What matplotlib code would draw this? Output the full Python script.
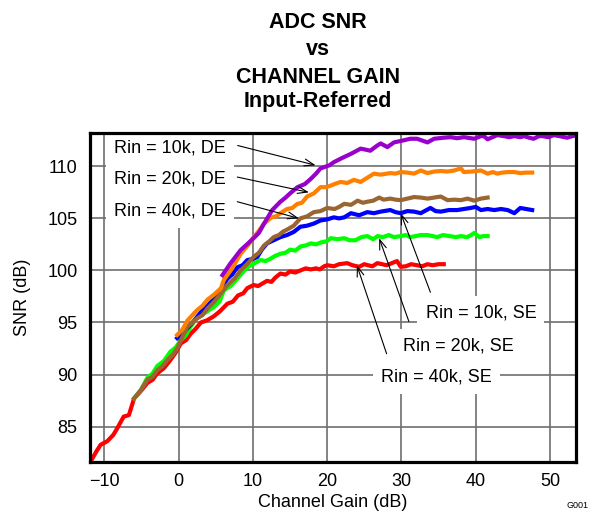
import matplotlib
matplotlib.use("Agg")
import matplotlib.pyplot as plt

plt.rcParams["font.family"] = ["Liberation Sans", "DejaVu Sans"]

# Rin = 40k, SE (red)
red_x = [-11.85, -11.0, -10.5, -9.6, -8.8, -8.25, -7.4, -6.7, -6.0, -5.1, -4.2, -3.5, -2.9, -2.0,
         -1.1, -0.4, 0.3, 1.0, 1.6, 2.3, 3.0, 3.8, 4.75, 5.6, 6.55, 7.3, 8.0, 8.7, 9.25, 10.1,
         10.7, 11.3, 11.9, 12.5, 13.0, 13.7, 14.4, 15.0, 15.7, 16.4, 17.1, 17.8, 18.5, 19.0,
         19.6, 20.0, 20.9, 21.6, 22.7, 23.4, 24.3, 25.0, 25.5, 26.1, 26.75, 27.4, 28.0, 28.7,
         29.4, 29.9, 30.6, 31.3, 32.1, 32.8, 33.5, 34.2, 35.0, 35.7]
red_y = [81.65, 82.7, 83.25, 83.6, 84.2, 84.85, 85.96, 86.1, 87.7, 88.4, 89.2, 89.5, 90.1, 90.6,
         91.4, 92.1, 93.0, 93.3, 93.9, 94.4, 95.0, 95.2, 95.6, 96.1, 96.8, 97.0, 97.6, 97.8, 98.3, 98.6,
         98.5, 98.75, 99.0, 98.9, 99.3, 99.7, 99.6, 99.9, 99.8, 100.0, 100.2, 100.1, 100.2, 100.1,
         100.4, 100.5, 100.4, 100.6, 100.7, 100.5, 100.35, 100.6, 100.5, 100.4, 100.7, 100.6, 100.5, 100.7,
         100.9, 100.35, 100.4, 100.6, 100.5, 100.4, 100.6, 100.5, 100.6, 100.6]

# Rin = 20k, SE (green)
green_x = [-6.0, -5.1, -4.2, -3.5, -2.9, -2.0, -1.1, -0.4, 0.3, 1.0, 1.6, 2.5, 3.5, 4.75, 5.5,
           6.1, 7.0, 7.9, 8.6, 9.25, 10.0, 11.0, 11.7, 12.3, 13.0, 13.7, 14.4, 15.0, 15.7, 16.4,
           17.1, 17.8, 18.5, 19.2, 19.9, 20.5, 21.4, 22.3, 23.0, 23.8, 24.6, 25.4, 26.2, 26.8,
           27.5, 28.3, 29.0, 29.9, 30.6, 31.2, 31.9, 32.6, 33.5, 34.2, 34.8, 35.6, 36.5, 37.3,
           38.0, 38.8, 39.4, 39.8, 40.5, 41.0, 41.6]
green_y = [87.7, 88.5, 89.7, 90.1, 90.8, 91.3, 92.2, 92.6, 93.3, 93.8, 94.6, 95.5, 95.9, 96.5, 97.0,
           98.1, 98.5, 99.2, 99.8, 100.3, 100.6, 101.0, 100.9, 101.1, 101.4, 101.6, 101.7, 102.0, 101.9, 102.3,
           102.4, 102.6, 102.5, 102.7, 102.8, 103.1, 103.0, 103.1, 102.9, 102.9, 103.2, 103.3, 103.0, 103.3,
           103.2, 103.4, 103.2, 103.3, 103.4, 103.2, 103.3, 103.4, 103.4, 103.3, 103.2, 103.4, 103.3, 103.2,
           103.3, 103.2, 103.4, 103.6, 103.2, 103.3, 103.3]

# Rin = 10k, SE (blue)
blue_x = [-0.2, 1.0, 2.0, 3.0, 4.0, 5.0, 5.8, 6.55, 7.2, 7.9, 8.6, 9.25, 10.0, 10.6, 11.2, 11.9,
          12.8, 13.7, 14.6, 15.5, 16.4, 17.3, 18.2, 19.1, 20.0, 20.9, 21.6, 22.3, 23.2, 24.3,
          25.4, 26.3, 27.2, 28.5, 29.2, 29.9, 30.8, 31.7, 32.6, 33.9, 34.6, 35.3, 36.4, 37.5,
          38.4, 39.3, 40.0, 40.7, 41.6, 42.5, 43.4, 44.3, 45.2, 46.0, 46.8, 47.6]
blue_y = [93.5, 94.3, 95.1, 96.0, 96.7, 97.5, 98.3, 99.2, 99.6, 100.3, 100.5, 101.0, 101.1, 101.3, 102.0, 102.6,
          102.9, 103.2, 103.4, 103.7, 104.2, 104.3, 104.5, 104.8, 104.9, 105.1, 105.0, 105.1, 105.5, 105.3,
          105.6, 105.5, 105.65, 105.8, 105.6, 105.5, 105.7, 105.65, 105.5, 106.0, 105.7, 105.65, 105.8, 105.8,
          105.9, 106.0, 106.1, 105.8, 105.9, 105.8, 105.9, 105.8, 105.5, 106.0, 105.9, 105.8]

# Rin = 40k, DE (brown)
brown_x = [-6.0, -5.1, -4.2, -3.5, -2.9, -2.2, -1.5, -0.8, -0.2, 0.5, 1.2, 2.5, 3.2, 3.9, 4.8,
           5.7, 6.55, 7.5, 8.35, 9.2, 10.1, 10.8, 11.5, 12.2, 12.8, 13.5, 14.0, 14.8, 15.5,
           16.4, 17.3, 18.2, 19.1, 20.0, 21.0, 21.6, 22.3, 23.2, 24.1, 24.8, 25.4, 26.2, 27.0,
           27.6, 28.5, 29.2, 29.9, 30.8, 31.7, 32.6, 33.5, 34.4, 35.3, 36.2, 37.1, 38.0, 38.9,
           39.8, 40.7, 41.6]
brown_y = [87.7, 88.5, 89.5, 89.8, 90.4, 90.8, 91.4, 91.9, 92.5, 93.6, 94.6, 95.4, 95.7, 96.35, 97.0,
           97.8, 98.6, 99.2, 100.0, 100.6, 101.3, 101.7, 102.4, 102.8, 103.2, 103.4, 103.7, 104.0, 104.3,
           105.0, 105.2, 105.6, 105.7, 106.0, 105.9, 106.1, 106.4, 106.3, 106.7, 106.5, 106.6, 106.7, 107.0,
           106.8, 106.9, 106.8, 106.75, 106.9, 107.05, 107.0, 106.9, 107.0, 107.1, 106.75, 106.8, 106.75, 106.9,
           106.7, 106.9, 107.0]

# Rin = 20k, DE (orange)
orange_x = [-0.2, 0.5, 1.2, 2.5, 3.2, 3.9, 4.8, 5.7, 6.1, 7.2, 8.35, 9.2, 10.1, 10.8, 11.5, 12.5,
            13.1, 13.7, 14.6, 15.3, 16.0, 16.6, 17.3, 18.2, 19.1, 19.8, 20.3, 21.0, 21.8, 22.7,
            23.6, 24.5, 25.4, 26.3, 27.2, 28.5, 29.2, 29.9, 30.8, 31.7, 32.6, 33.5, 34.4, 35.3,
            36.2, 37.1, 38.0, 38.4, 39.5, 40.7, 41.6, 42.3, 42.9, 43.6, 44.3, 45.2, 46.0, 46.8,
            47.6]
orange_y = [93.8, 94.3, 95.2, 96.2, 96.6, 97.2, 97.7, 98.3, 99.1, 100.2, 101.6, 102.3, 103.2, 103.8, 104.5, 105.1,
            105.2, 105.5, 105.9, 106.0, 106.4, 106.5, 107.1, 107.4, 108.0, 108.0, 108.1, 108.3, 108.5, 108.4,
            108.7, 108.5, 108.9, 109.3, 109.2, 109.35, 109.3, 109.45, 109.4, 109.3, 109.6, 109.35, 109.5, 109.55,
            109.5, 109.6, 109.8, 109.45, 109.5, 109.6, 109.3, 109.45, 109.3, 109.4, 109.45, 109.45, 109.35, 109.4,
            109.4]

# Rin = 10k, DE (purple)
purple_x = [5.9, 7.0, 8.35, 9.2, 10.1, 10.8, 11.5, 12.6, 13.7, 14.4, 15.0, 16.0, 17.0, 17.8,
            18.5, 19.1, 20.3, 20.9, 22.0, 23.2, 24.5, 25.2, 25.8, 26.75, 27.2, 28.1, 29.0, 30.3,
            31.2, 32.1, 33.5, 34.4, 35.7, 36.6, 37.5, 38.4, 39.8, 40.7, 41.1, 41.6, 42.9, 43.8,
            44.5, 45.2, 46.0, 46.5, 47.2, 47.8, 48.5, 49.0, 49.8, 50.5, 51.3, 52.3, 53.0, 53.7]
purple_y = [99.55, 100.7, 101.95, 102.5, 103.1, 103.6, 104.5, 105.8, 106.6, 107.0, 107.4, 108.0, 108.3, 108.8,
            109.3, 109.8, 110.1, 110.4, 110.8, 111.2, 111.7, 111.6, 111.5, 112.0, 112.2, 111.85, 112.3, 112.5,
            112.65, 112.65, 112.3, 112.65, 112.75, 112.8, 112.7, 112.8, 112.65, 112.9, 112.9, 112.6, 113.0, 112.9,
            112.8, 112.9, 112.8, 112.9, 112.75, 112.65, 112.9, 112.9, 112.8, 113.0, 112.9, 112.75, 112.9, 113.0]

series = [
    (red_x, red_y, "#ff0000"),
    (green_x, green_y, "#00ff00"),
    (blue_x, blue_y, "#0000ff"),
    (brown_x, brown_y, "#996633"),
    (orange_x, orange_y, "#ff8000"),
    (purple_x, purple_y, "#9900cc"),
]

# label text, text anchor (left, center), arrow tail, arrow tip
labels = ["Rin = 10k, DE", "Rin = 20k, DE", "Rin = 40k, DE",
          "Rin = 10k, SE", "Rin = 20k, SE", "Rin = 40k, SE"]
label_pos = [(-8.75, 111.8), (-8.75, 108.75), (-8.75, 105.7),
             (33.25, 95.9), (30.25, 92.77), (27.3, 89.74)]
arrow_tail = [(7.95, 112.0), (7.9, 108.97), (7.9, 106.6),
              (33.9, 97.9), (31.0, 95.1), (28.0, 92.0)]
arrow_tip = [(18.45, 110.1), (17.55, 107.5), (16.2, 105.0),
             (29.9, 105.5), (27.0, 103.1), (24.0, 100.5)]

xticks = [-10, 0, 10, 20, 30, 40, 50]
yticks = [85, 90, 95, 100, 105, 110]

fig = plt.figure(figsize=(5.97, 5.14), dpi=100)
ax = fig.add_axes([0.1508, 0.1012, 0.814, 0.64])

ax.set_xlim(-11.93, 53.5)
ax.set_ylim(81.6, 113.2)
ax.set_xticks(xticks)
ax.set_yticks(yticks)
ax.tick_params(length=0, labelsize=13)
ax.tick_params(axis="x", pad=8)
ax.tick_params(axis="y", pad=9)
ax.grid(True, color="#6e6e6e", linewidth=1.2, zorder=0)
ax.set_axisbelow(True)
for sp in ax.spines.values():
    sp.set_linewidth(2.3)
    sp.set_zorder(10)

for x, y, c in series:
    ax.plot(x, y, color=c, linewidth=3, solid_joinstyle="round", zorder=3)

for txt, pos, tail, tip in zip(labels, label_pos, arrow_tail, arrow_tip):
    ax.text(pos[0], pos[1], txt, fontsize=13, ha="left", va="center", zorder=2,
            bbox=dict(boxstyle="square,pad=0.45", facecolor="white", edgecolor="none"))
    ax.annotate("", xy=tip, xytext=tail, zorder=4,
                arrowprops=dict(arrowstyle="->,head_length=0.7,head_width=0.25",
                                color="black", lw=0.8, shrinkA=0, shrinkB=0))

ax.set_xlabel("Channel Gain (dB)", fontsize=13, labelpad=3)
ax.set_ylabel("SNR (dB)", fontsize=13, labelpad=12)

title_lines = ["ADC SNR", "vs", "CHANNEL GAIN", "Input-Referred"]
baselines = [28, 55, 83, 107]
for line, b in zip(title_lines, baselines):
    fig.text(0.533, 1 - b / 514, line, fontsize=15.5, fontweight="bold",
             ha="center", va="baseline")

fig.text(0.985, 0.008, "G001", fontsize=6.5, ha="right", va="bottom")

fig.savefig("out.png", dpi=100)
